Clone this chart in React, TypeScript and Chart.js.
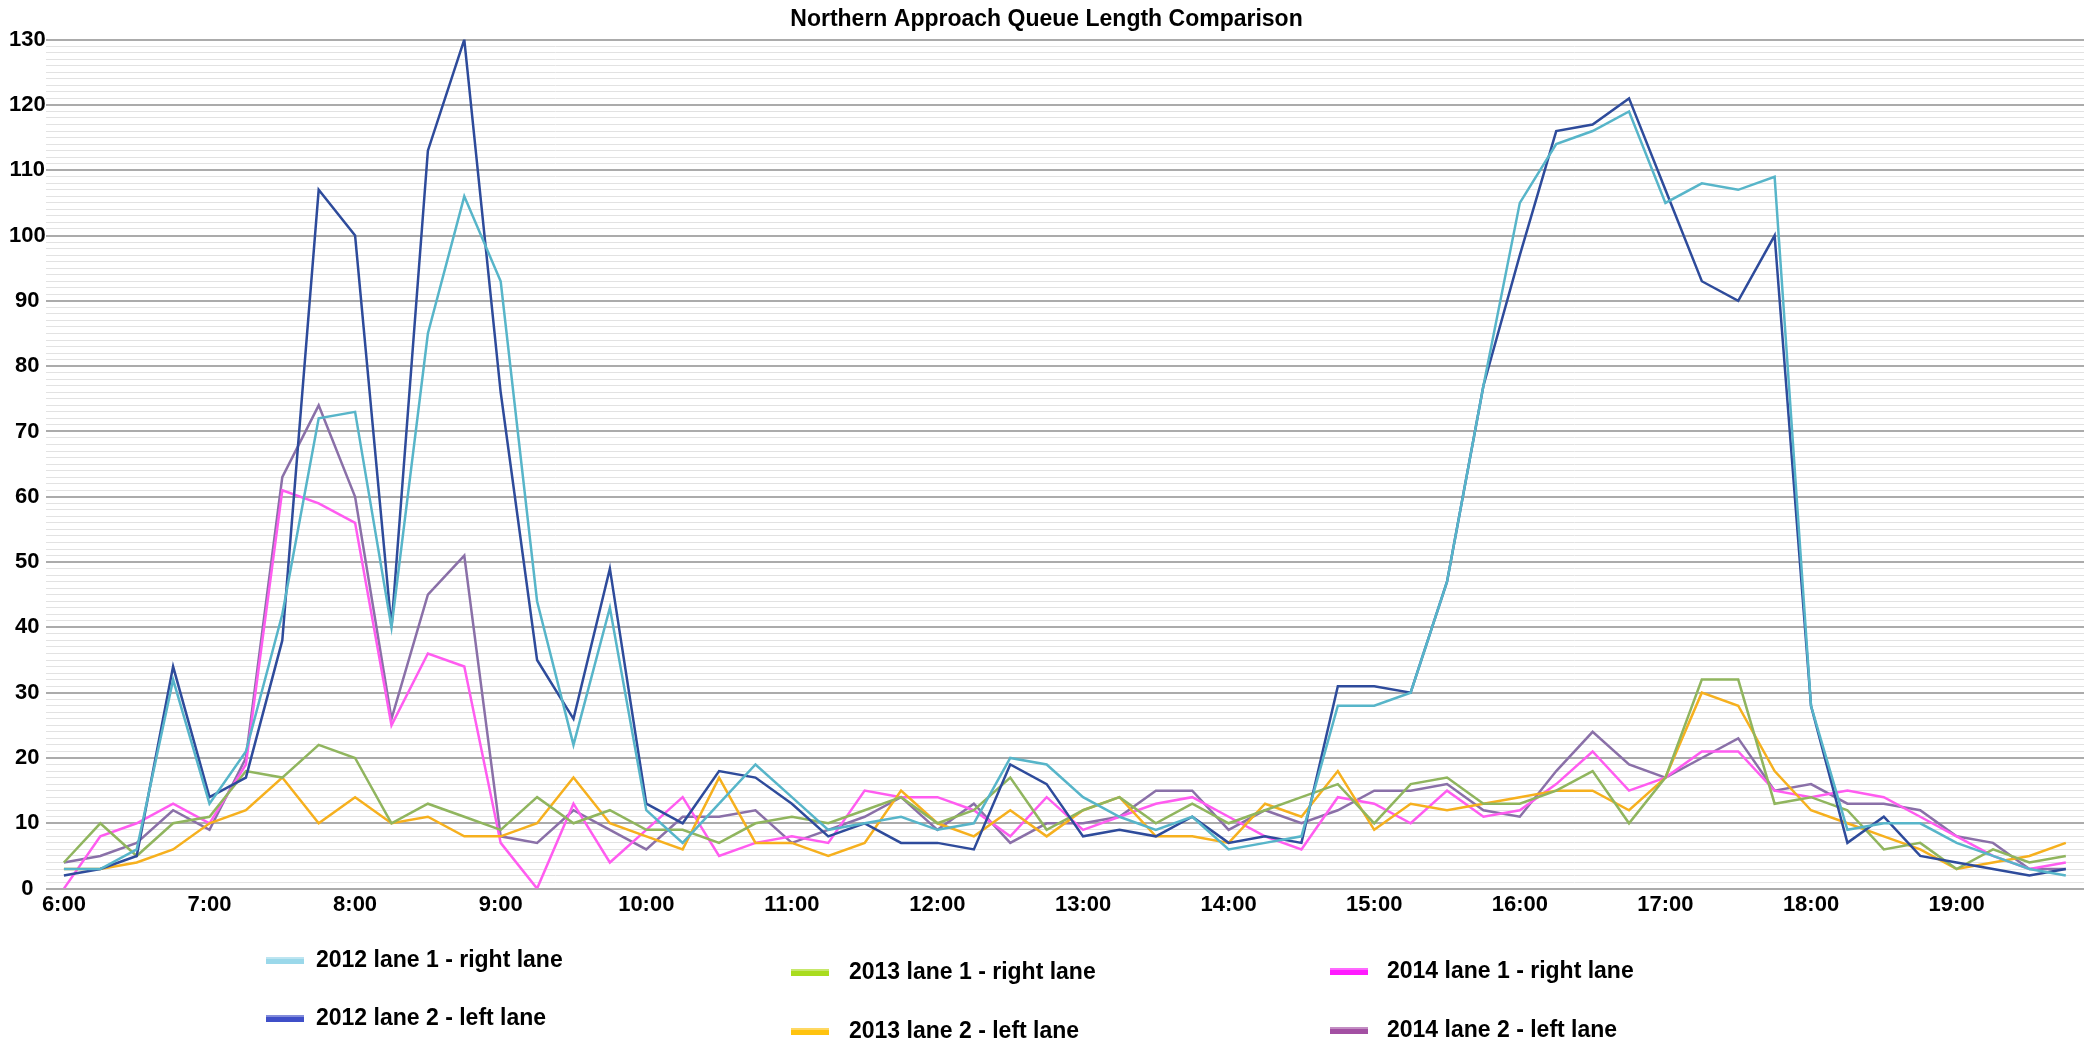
import React, { useEffect, useRef } from 'react';
import { Chart, registerables } from 'chart.js';

Chart.register(...registerables);

const TITLE = 'Northern Approach Queue Length Comparison';

const TIMES = [
  '6:00', '6:15', '6:30', '6:45', '7:00', '7:15', '7:30', '7:45',
  '8:00', '8:15', '8:30', '8:45', '9:00', '9:15', '9:30', '9:45',
  '10:00', '10:15', '10:30', '10:45', '11:00', '11:15', '11:30', '11:45',
  '12:00', '12:15', '12:30', '12:45', '13:00', '13:15', '13:30', '13:45',
  '14:00', '14:15', '14:30', '14:45', '15:00', '15:15', '15:30', '15:45',
  '16:00', '16:15', '16:30', '16:45', '17:00', '17:15', '17:30', '17:45',
  '18:00', '18:15', '18:30', '18:45', '19:00', '19:15', '19:30', '19:45',
];

const LANE1_2012 = [
  3, 3, 6, 32, 13, 21, 42, 72, 73, 40,
  85, 106, 93, 44, 22, 43, 12, 7, 13, 19,
  14, 9, 10, 11, 9, 10, 20, 19, 14, 11,
  9, 11, 6, 7, 8, 28, 28, 30, 47, 77,
  105, 114, 116, 119, 105, 108, 107, 109, 28, 9,
  10, 10, 7, 5, 3, 2,
];

const LANE2_2012 = [
  2, 3, 5, 34, 14, 17, 38, 107, 100, 40,
  113, 130, 76, 35, 26, 49, 13, 10, 18, 17,
  13, 8, 10, 7, 7, 6, 19, 16, 8, 9,
  8, 11, 7, 8, 7, 31, 31, 30, 47, 77,
  97, 116, 117, 121, 107, 93, 90, 100, 28, 7,
  11, 5, 4, 3, 2, 3,
];

const LANE1_2013 = [
  4, 10, 5, 10, 11, 18, 17, 22, 20, 10,
  13, 11, 9, 14, 10, 12, 9, 9, 7, 10,
  11, 10, 12, 14, 10, 12, 17, 9, 12, 14,
  10, 13, 10, 12, 14, 16, 10, 16, 17, 13,
  13, 15, 18, 10, 17, 32, 32, 13, 14, 12,
  6, 7, 3, 6, 4, 5,
];

const LANE2_2013 = [
  3, 3, 4, 6, 10, 12, 17, 10, 14, 10,
  11, 8, 8, 10, 17, 10, 8, 6, 17, 7,
  7, 5, 7, 15, 10, 8, 12, 8, 12, 14,
  8, 8, 7, 13, 11, 18, 9, 13, 12, 13,
  14, 15, 15, 12, 17, 30, 28, 18, 12, 10,
  8, 6, 3, 4, 5, 7,
];

const LANE1_2014 = [
  0, 8, 10, 13, 10, 19, 61, 59, 56, 25,
  36, 34, 7, 0, 13, 4, 9, 14, 5, 7,
  8, 7, 15, 14, 14, 12, 8, 14, 9, 11,
  13, 14, 11, 8, 6, 14, 13, 10, 15, 11,
  12, 16, 21, 15, 17, 21, 21, 15, 14, 15,
  14, 11, 8, 5, 3, 4,
];

const LANE2_2014 = [
  4, 5, 7, 12, 9, 20, 63, 74, 60, 26,
  45, 51, 8, 7, 12, 9, 6, 11, 11, 12,
  7, 9, 11, 14, 9, 13, 7, 10, 10, 11,
  15, 15, 9, 12, 10, 12, 15, 15, 16, 12,
  11, 18, 24, 19, 17, 20, 23, 15, 16, 13,
  13, 12, 8, 7, 3, 3,
];

const SERIES_LABELS = [
  '2012 lane 1 - right lane',
  '2012 lane 2 - left lane',
  '2013 lane 1 - right lane',
  '2013 lane 2 - left lane',
  '2014 lane 1 - right lane',
  '2014 lane 2 - left lane',
];

const SERIES_DATA = [LANE1_2012, LANE2_2012, LANE1_2013, LANE2_2013, LANE1_2014, LANE2_2014];

const LINE_COLORS = ['#57b5c9', '#2e4b9b', '#90b55e', '#f6b01e', '#ff5cf0', '#8a70a8'];
const LEGEND_COLORS = ['#9ad8ea', '#3f4fc8', '#a9dc1e', '#ffc30f', '#ff1aff', '#a350a3'];

const Y_MIN = 0;
const Y_MAX = 130;
const Y_MAJOR = 10;

const FONT = "'Liberation Sans', Arial, sans-serif";

const gridLegendPlugin = {
  id: 'gridLegend',
  afterDraw(chart: any) {
    const ctx = chart.ctx;
    // slot positions: [swatchX, textX, centerY]
    const slots = [
      [266, 316, 961],
      [266, 316, 1019],
      [791, 849, 973],
      [791, 849, 1032],
      [1330, 1387, 972],
      [1330, 1387, 1031],
    ];
    ctx.save();
    chart.data.datasets.forEach((ds: any, i: number) => {
      const s = slots[i];
      if (!s) return;
      ctx.fillStyle = ds.backgroundColor;
      ctx.fillRect(s[0], s[2] - 4, 38, 7);
      ctx.fillStyle = 'rgba(255,255,255,0.35)';
      ctx.fillRect(s[0], s[2] - 4, 38, 2);
      ctx.fillStyle = '#000';
      ctx.font = `bold 23px ${FONT}`;
      ctx.textAlign = 'left';
      ctx.textBaseline = 'middle';
      ctx.fillText(ds.label, s[1], s[2]);
    });
    ctx.restore();
  },
};

export default function App() {
  const canvasRef = useRef<HTMLCanvasElement | null>(null);

  useEffect(() => {
    const canvas = canvasRef.current;
    if (!canvas) return;
    const chart = new Chart(canvas, {
      type: 'line',
      data: {
        labels: TIMES,
        datasets: SERIES_LABELS.map((label, i) => ({
          label,
          data: SERIES_DATA[i],
          borderColor: LINE_COLORS[i],
          backgroundColor: LEGEND_COLORS[i],
          borderWidth: 2.5,
          pointRadius: 0,
          pointHoverRadius: 0,
          tension: 0,
          fill: false,
        })),
      },
      options: {
        responsive: false,
        animation: false,
        events: [],
        layout: { padding: { left: 9, right: 7, top: 0, bottom: 123 } },
        plugins: {
          legend: { display: false },
          tooltip: { enabled: false },
          title: {
            display: true,
            text: TITLE,
            color: '#000',
            font: { family: FONT, size: 23, weight: 'bold' },
            padding: { top: 6, bottom: 6 },
          },
        },
        scales: {
          x: {
            type: 'category',
            offset: true,
            grid: { display: false, drawTicks: false },
            border: { display: false },
            ticks: {
              autoSkip: false,
              maxRotation: 0,
              minRotation: 0,
              padding: 3,
              color: '#000',
              font: { family: FONT, size: 22, weight: 'bold' },
              callback: function (this: any, value: any) {
                const lbl = String(this.getLabelForValue(value));
                return lbl.endsWith(':00') ? lbl : '';
              },
            },
          },
          y: {
            min: Y_MIN,
            max: Y_MAX,
            grid: {
              drawTicks: false,
              color: (c: any) => (c.tick && c.tick.value % Y_MAJOR === 0 ? '#ababab' : '#e2e2e2'),
              lineWidth: (c: any) => (c.tick && c.tick.value % Y_MAJOR === 0 ? 2 : 1),
            },
            border: { display: false },
            ticks: {
              stepSize: 1,
              autoSkip: false,
              padding: 0,
              crossAlign: 'center',
              color: '#000',
              font: { family: FONT, size: 22, weight: 'bold' },
              callback: (v: any) => (Number(v) % Y_MAJOR === 0 ? String(v) : ''),
            },
          },
        },
      },
      plugins: [gridLegendPlugin],
    } as any);
    return () => chart.destroy();
  }, []);

  return (
    <div style={{ position: 'fixed', left: 0, top: 0, width: 2091, height: 1044, background: '#fff' }}>
      <canvas ref={canvasRef} width={2091} height={1044} style={{ display: 'block' }} />
    </div>
  );
}
